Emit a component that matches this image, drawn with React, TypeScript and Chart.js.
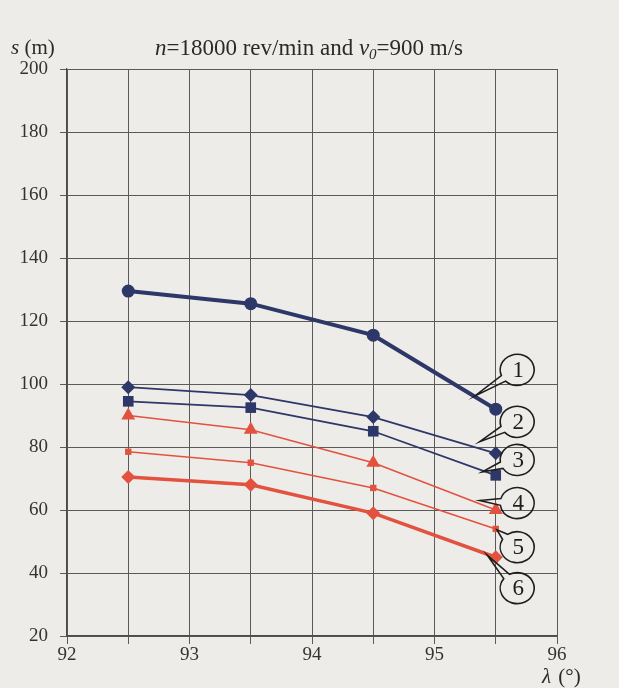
import React, { useEffect, useRef } from "react";
import { Chart, registerables } from "chart.js";

Chart.register(...registerables);

const xAngles = [92.5, 93.5, 94.5, 95.5];
const s1 = [129.5, 125.5, 115.5, 92];
const s2 = [99, 96.5, 89.5, 78];
const s3 = [94.5, 92.5, 85, 71];
const s4 = [90, 85.5, 75, 60];
const s5 = [78.5, 75, 67, 54];
const s6 = [70.5, 68, 59, 45];
const seriesNames = ["1", "2", "3", "4", "5", "6"];
const yTicks = [20, 40, 60, 80, 100, 120, 140, 160, 180, 200];
const xTickLabels = [92, 93, 94, 95, 96];
// callout bubbles (data coords): label centre and tail tip
const calloutCenters = [
  [95.675, 104.5],
  [95.675, 88.0],
  [95.675, 75.9],
  [95.675, 62.2],
  [95.675, 48.2],
  [95.675, 35.2],
];
const calloutTips = [
  [95.33, 96.2],
  [95.37, 81.7],
  [95.39, 72.1],
  [95.37, 63.0],
  [95.51, 53.7],
  [95.43, 45.7],
];

const NAVY = "#2d3768";
const RED = "#e2523e";
const PAPER = "#eeece9";
const INK = "#2a2a2a";
const SERIF = "'Liberation Serif', 'DejaVu Serif', serif";

const pts = (vals: number[]) => xAngles.map((x, i) => ({ x, y: vals[i] }));

const decorPlugin = {
  id: "decor",
  beforeDraw(chart: any) {
    const ctx = chart.ctx;
    ctx.save();
    ctx.fillStyle = PAPER;
    ctx.fillRect(0, 0, chart.width, chart.height);
    ctx.restore();
  },
  afterDraw(chart: any) {
    const ctx = chart.ctx;
    const xs = chart.scales.x;
    const ys = chart.scales.y;
    ctx.save();
    ctx.fillStyle = INK;
    ctx.textBaseline = "alphabetic";
    // title with mixed styles
    const parts: [string, string, number][] = [
      ["n", "italic", 0],
      ["=18000 rev/min and ", "normal", 0],
      ["v", "italic", 0],
      ["0", "italic", 1],
      ["=900 m/s", "normal", 0],
    ];
    const fs = 23;
    let total = 0;
    for (const [t, st, sub] of parts) {
      ctx.font = `${st} ${sub ? 15 : fs}px ${SERIF}`;
      total += ctx.measureText(t).width;
    }
    let x = 309 - total / 2;
    const by = 55;
    for (const [t, st, sub] of parts) {
      ctx.font = `${st} ${sub ? 15 : fs}px ${SERIF}`;
      ctx.fillText(t, x, by + (sub ? 4 : 0));
      x += ctx.measureText(t).width;
    }
    // y axis label
    const fl = 21;
    ctx.font = `italic ${fl}px ${SERIF}`;
    ctx.fillText("s", 11, 54);
    let w = ctx.measureText("s ").width;
    ctx.font = `normal ${fl}px ${SERIF}`;
    ctx.fillText("(m)", 11 + w, 54);
    // x axis label
    ctx.font = `italic ${fl}px ${SERIF}`;
    ctx.fillText("\u03bb", 542, 683);
    w = ctx.measureText("\u03bb ").width;
    ctx.font = `normal ${fl}px ${SERIF}`;
    ctx.fillText("(\u00b0)", 542 + w + 2, 683);

    // callout bubbles
    ctx.lineWidth = 1.6;
    ctx.strokeStyle = "#1e1e1e";
    const rx = 17;
    const ry = 15.5;
    for (let i = 0; i < calloutCenters.length; i++) {
      const cx = xs.getPixelForValue(calloutCenters[i][0]);
      const cy = ys.getPixelForValue(calloutCenters[i][1]);
      const tx = xs.getPixelForValue(calloutTips[i][0]);
      const ty = ys.getPixelForValue(calloutTips[i][1]);
      const a = Math.atan2((ty - cy) / ry, (tx - cx) / rx);
      const d = 0.22;
      ctx.beginPath();
      ctx.ellipse(cx, cy, rx, ry, 0, a + d, a - d + Math.PI * 2);
      ctx.lineTo(tx, ty);
      ctx.closePath();
      ctx.stroke();
      ctx.fillStyle = "#1e1e1e";
      ctx.font = `normal 23px ${SERIF}`;
      ctx.textAlign = "center";
      ctx.textBaseline = "middle";
      ctx.fillText(seriesNames[i], cx + 1, cy + 1);
      ctx.textAlign = "left";
      ctx.textBaseline = "alphabetic";
    }
    ctx.restore();
  },
};

export default function App() {
  const ref = useRef<HTMLCanvasElement | null>(null);
  useEffect(() => {
    document.body.style.margin = "0";
    document.body.style.background = PAPER;
    const mk = (
      label: string,
      vals: number[],
      color: string,
      bw: number,
      style: string,
      r: number
    ) => ({
      label,
      data: pts(vals),
      borderColor: color,
      backgroundColor: color,
      borderWidth: bw,
      pointStyle: style,
      pointRadius: r,
      pointBorderWidth: 0,
      pointBackgroundColor: color,
      tension: 0,
    });
    const chart = new Chart(ref.current!, {
      type: "line",
      data: {
        datasets: [
          mk(seriesNames[5], s6, RED, 3.5, "rectRot", 7),
          mk(seriesNames[4], s5, RED, 1.6, "rect", 4.5),
          mk(seriesNames[3], s4, RED, 1.6, "triangle", 8),
          mk(seriesNames[2], s3, NAVY, 1.8, "rect", 7.5),
          mk(seriesNames[1], s2, NAVY, 1.8, "rectRot", 7),
          mk(seriesNames[0], s1, NAVY, 4, "circle", 6.5),
        ] as any,
      },
      options: {
        animation: false,
        responsive: false,
        devicePixelRatio: 1,
        layout: { padding: { top: 69, right: 62, left: 0, bottom: 0 } },
        plugins: {
          legend: { display: false },
          title: { display: false },
          tooltip: { enabled: false },
        },
        scales: {
          x: {
            type: "linear",
            min: 92,
            max: 96,
            afterFit: (s: any) => {
              s.height = 52;
            },
            afterBuildTicks: (s: any) => {
              const t: any[] = [];
              for (let v = 92; v <= 96.001; v += 0.5) t.push({ value: v });
              s.ticks = t;
            },
            ticks: {
              autoSkip: false,
              maxRotation: 0,
              padding: 0,
              color: "#333",
              font: { family: SERIF, size: 19 },
              callback: (v: any) =>
                xTickLabels.includes(Number(v)) ? String(v) : "",
            },
            grid: { color: "#5a5a5a", lineWidth: 1, tickLength: 8 },
            border: { color: "#4a4a4a", width: 1.2 },
          },
          y: {
            min: 20,
            max: 200,
            afterFit: (s: any) => {
              s.width = 67;
            },
            afterBuildTicks: (s: any) => {
              s.ticks = yTicks.map((v) => ({ value: v }));
            },
            ticks: {
              padding: 12,
              color: "#333",
              font: { family: SERIF, size: 19 },
            },
            grid: { color: "#5a5a5a", lineWidth: 1, tickLength: 7 },
            border: { color: "#4a4a4a", width: 1.2 },
          },
        },
      },
      plugins: [decorPlugin],
    });
    return () => chart.destroy();
  }, []);
  return (
    <div style={{ width: 619, height: 688, background: PAPER }}>
      <canvas ref={ref} width={619} height={688} style={{ display: "block" }} />
    </div>
  );
}
